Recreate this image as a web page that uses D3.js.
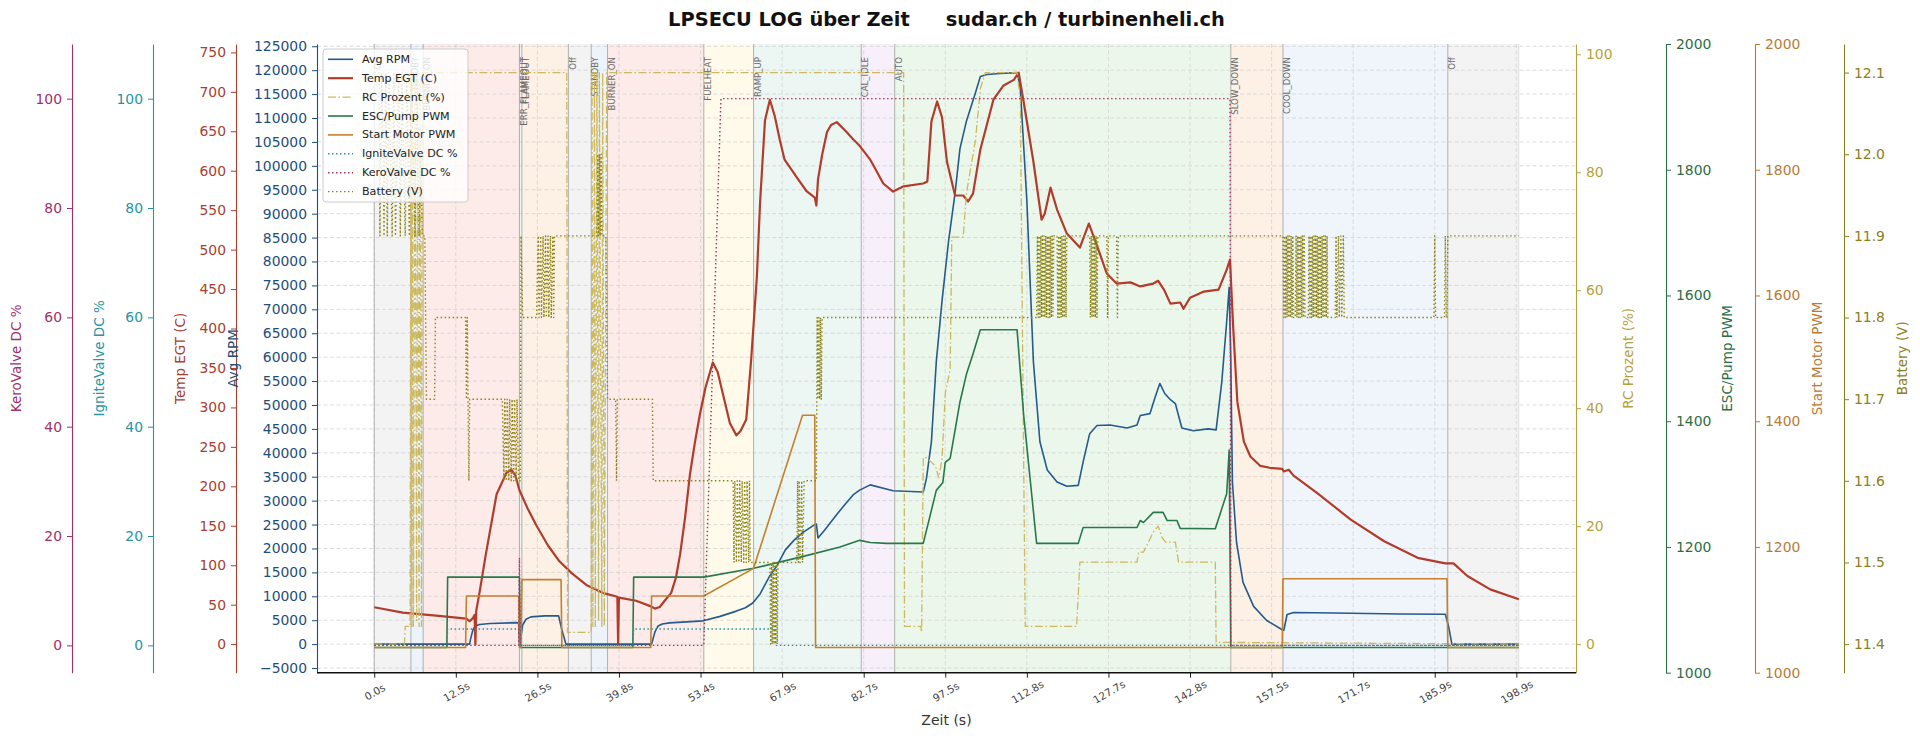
<!DOCTYPE html>
<html>
<head>
<meta charset="utf-8">
<script src="https://cdnjs.cloudflare.com/ajax/libs/d3/7.8.5/d3.min.js"></script>
<style>
body { margin: 0; background: #fff; }
svg { font-family: "DejaVu Sans", sans-serif; }
</style>
</head>
<body>
<svg id="chart" width="1920" height="739"></svg>
<script>
// x values are log sample numbers (100 samples between labelled ticks)
const tickIdx = [0, 100, 200, 300, 400, 500, 600, 700, 800, 900, 1000, 1100, 1200, 1300, 1400];
const tickLabels = ['0.0s', '12.5s', '26.5s', '39.8s', '53.4s', '67.9s', '82.7s', '97.5s',
    '112.8s', '127.7s', '142.8s', '157.5s', '171.7s', '185.9s', '198.9s'];
const lastSample = 1403;

// [start sample, state]
const phases = [[0, 'Off'], [45, 'STANDBY'], [60, 'BURNER_ON'], [178, 'ERR_FLAMEOUT'], [181, 'FLAMEOUT'],
    [238, 'Off'], [266, 'STANDBY'], [286, 'BURNER_ON'], [404, 'FUELHEAT'], [465, 'RAMP_UP'],
    [597, 'CAL_IDLE'], [638, 'AUTO'], [1050, 'SLOW_DOWN'], [1114, 'COOL_DOWN'], [1316, 'Off']];

const rpm = [[0, 0], [117, 0], [118, 1000], [121, 3000], [124, 3800], [129, 4100], [142, 4300], [174, 4500],
    [177, 4400], [178, 0], [180, 1700], [182, 4000], [186, 5200], [192, 5700], [209, 5900], [226, 5900],
    [230, 3000], [235, 0], [340, 0], [344, 2500], [348, 3800], [353, 4200], [362, 4450], [403, 4870],
    [424, 5800], [444, 6900], [455, 7600], [464, 8600], [473, 10500], [485, 14300], [494, 16500],
    [504, 19700], [515, 21800], [526, 23400], [540, 25000], [542, 25100], [544, 22200], [552, 23800],
    [567, 27100], [577, 29200], [587, 31200], [595, 32200], [608, 33300], [636, 32070], [673, 31800],
    [677, 34700], [683, 42300], [689, 59100], [696, 71700], [704, 84200], [712, 94300], [718, 103600],
    [726, 109400], [737, 115300], [743, 118700], [751, 119100], [767, 119300], [788, 119500],
    [792, 116200], [800, 92700], [808, 59100], [816, 42300], [825, 36400], [837, 33900], [849, 33000],
    [863, 33200], [869, 38100], [877, 44000], [886, 45700], [902, 45800], [923, 45200], [935, 45800],
    [939, 47800], [951, 48200], [957, 51500], [963, 54500], [969, 52400], [976, 51100], [982, 50300],
    [990, 45200], [1004, 44600], [1022, 45000], [1032, 44800], [1039, 54900], [1045, 67500],
    [1048, 74600], [1050, 59100], [1052, 33900], [1057, 21300], [1065, 12900], [1078, 7900],
    [1094, 4950], [1113, 3000], [1115, 2900], [1119, 6200], [1127, 6600], [1176, 6500], [1258, 6300],
    [1313, 6250], [1317, 3700], [1321, 0], [1403, 0]];

const egt = [[0, 46.7], [35, 40], [76, 36], [113, 32.4], [117, 29], [121, 33], [123, 37], [124, 0], [125, 42],
    [129, 65], [137, 115], [150, 190], [162, 217], [168, 221], [173, 214], [178, 195], [188, 172], [199, 150],
    [213, 125], [227, 105], [242, 90], [260, 75], [280, 65], [298, 60], [299, 0], [300, 59], [321, 55],
    [340, 47.5], [344, 45], [350, 47], [356, 55], [364, 65], [370, 85], [375, 114], [381, 160], [387, 215],
    [393, 255], [399, 290], [406, 325], [415, 357], [421, 345], [428, 314.5], [436, 280], [444, 264.6],
    [449, 270], [456, 284.6], [462, 360], [469, 464.6], [473, 560], [479, 664], [485, 690], [491, 669],
    [497, 640], [503, 614], [518, 591.6], [530, 574], [540, 566], [542, 556], [544, 589], [549, 620],
    [555, 649], [560, 658], [567, 661.6], [579, 649], [587, 640], [595, 631.6], [608, 614], [612, 606.6],
    [624, 583.8], [636, 573.6], [649, 580.2], [673, 583.8], [678, 586.4], [683, 662.4], [690, 687.8],
    [696, 667.6], [702, 611.7], [712, 568.6], [722, 568.6], [728, 561], [734, 571], [743, 627], [759, 690],
    [771, 707.6], [784, 715.2], [790, 724.4], [796, 687.8], [808, 611.7], [818, 538], [822, 545.7],
    [829, 578.6], [837, 550.8], [849, 520.3], [865, 502.6], [876, 533], [886, 505], [898, 469.7], [910, 457],
    [927, 458.5], [939, 453.4], [955, 457], [961, 460.5], [968, 449.4], [976, 431.6], [988, 433], [992, 425],
    [1000, 439], [1017, 446.8], [1035, 449.4], [1045, 474.7], [1049, 487.4], [1053, 400], [1058, 307.3],
    [1066, 256.6], [1074, 237.8], [1086, 226], [1098, 223.5], [1113, 222], [1115, 218.8], [1121, 221],
    [1127, 213.6], [1156, 191.5], [1197, 157.8], [1238, 130.4], [1279, 109.4], [1313, 102.3], [1323, 102.3],
    [1340, 86.3], [1368, 69.4], [1403, 56.8]];

const rcPercent = [[0, 0], [37, 0], [38, 3], [44, 3], [45, 96.9], [46, 3], [47, 96.9], [48, 3], [50, 96.9],
    [52, 4], [53, 96.9], [55, 3], [56, 96.9], [58, 3], [59, 96.9], [236, 96.9], [237, 2], [266, 2],
    [267, 96.9], [268, 3], [270, 96.9], [271, 3], [273, 96.9], [275, 4], [276, 96.9], [279, 3], [280, 96.9],
    [282, 3], [285, 96.9], [649, 96.9], [650, 3], [670, 3], [671, 2], [673, 31.6], [677, 31.6], [688, 30.2],
    [692, 28.2], [696, 31.3], [700, 42.5], [706, 46.6], [708, 69], [722, 69], [726, 76.5], [737, 85.4],
    [743, 94.2], [749, 96.9], [788, 96.9], [792, 92.2], [798, 3], [861, 3], [865, 13.9], [935, 13.9],
    [937, 15.6], [943, 15.6], [955, 19], [961, 20], [966, 18], [970, 17.3], [982, 17.3], [986, 13.9],
    [1031, 13.9], [1032, 0.3], [1403, 0]];

const escPwm = [[0, 1040], [89, 1040], [90, 1152], [178, 1152], [179, 1040], [317, 1040], [318, 1152],
    [404, 1152], [465, 1166], [526, 1185], [571, 1200], [595, 1210.5], [608, 1207], [628, 1205.7],
    [673, 1205.7], [689, 1290], [697, 1302.7], [700, 1334.7], [706, 1341], [718, 1430.6], [726, 1475],
    [734, 1507], [743, 1545.6], [788, 1545.6], [796, 1411], [812, 1205.7], [863, 1205.7], [869, 1231],
    [935, 1231], [939, 1242], [943, 1239], [955, 1255], [967, 1255], [972, 1242], [984, 1242],
    [988, 1229.6], [1031, 1229], [1045, 1285], [1048, 1354], [1050, 1040], [1403, 1040]];

const startPwm = [[0, 1040], [112, 1040], [113, 1122], [177, 1122], [178, 1040], [180, 1040], [181, 1148],
    [229, 1148], [230, 1040], [339, 1040], [340, 1122], [404, 1122], [465, 1166], [525, 1409.6],
    [540, 1409.6], [541, 1040], [1113, 1040], [1114, 1149.5], [1315, 1149.5], [1316, 1040], [1403, 1040]];

const igniteDc = [[0, 0], [89, 0], [90, 3], [178, 3], [179, 0], [317, 0], [318, 3], [491, 3], [492, 0], [1403, 0]];

const keroDc = [[0, 0], [177, 0], [178, 16], [179, 0], [404, 0], [425, 100], [1049, 100], [1050, 0], [1403, 0]];

const battery = [[0, 12.1], [6, 12.1], [7, 11.9], [9, 12.1], [11, 12.0], [12, 11.9], [14, 12.1], [16, 11.9],
    [18, 12.1], [20, 12.0], [22, 11.9], [24, 12.1], [26, 11.9], [28, 12.0], [30, 12.1], [32, 11.9], [34, 12.1],
    [36, 12.0], [38, 11.9], [40, 12.1], [43, 11.9], [45, 12.1], [48, 12.0], [50, 11.9], [52, 12.1], [55, 11.9],
    [57, 12.0], [59, 11.9], [62, 11.9], [64, 11.7], [74, 11.7], [75, 11.8], [112, 11.8], [113, 11.7],
    [114, 11.8], [115, 11.7], [116, 11.6], [117, 11.7], [157, 11.7], [159, 11.6], [160, 11.7], [162, 11.6],
    [163, 11.7], [165, 11.6], [166, 11.7], [168, 11.6], [169, 11.7], [171, 11.6], [172, 11.7], [174, 11.6],
    [175, 11.7], [177, 11.6], [179, 11.6], [180, 11.9], [182, 11.8], [199, 11.8], [201, 11.9], [202, 11.8],
    [204, 11.9], [205, 11.8], [207, 11.9], [208, 11.8], [210, 11.9], [211, 11.8], [213, 11.9], [214, 11.8],
    [216, 11.9], [217, 11.8], [219, 11.9], [220, 11.8], [221, 11.9], [273, 11.9], [274, 12.0], [275, 11.9],
    [276, 12.0], [277, 11.9], [278, 12.0], [279, 11.9], [284, 11.9], [286, 11.7], [296, 11.7], [297, 11.6],
    [298, 11.7], [341, 11.7], [342, 11.6], [440, 11.6], [441, 11.5], [442, 11.6], [444, 11.5], [445, 11.6],
    [447, 11.5], [448, 11.6], [450, 11.5], [451, 11.6], [453, 11.5], [454, 11.6], [456, 11.5], [457, 11.6],
    [459, 11.5], [460, 11.6], [461, 11.5], [485, 11.5], [486, 11.4], [487, 11.5], [488, 11.4], [489, 11.5],
    [490, 11.4], [491, 11.5], [492, 11.4], [493, 11.5], [494, 11.4], [495, 11.5], [518, 11.5], [519, 11.6],
    [520, 11.5], [521, 11.6], [522, 11.5], [524, 11.6], [525, 11.5], [527, 11.6], [542, 11.6], [543, 11.8],
    [544, 11.7], [545, 11.8], [546, 11.7], [547, 11.8], [548, 11.7], [549, 11.8], [812, 11.8], [813, 11.9],
    [814, 11.8], [815, 11.9], [816, 11.8], [817, 11.9], [818, 11.8], [819, 11.9], [820, 11.8], [821, 11.9],
    [822, 11.8], [823, 11.9], [824, 11.8], [825, 11.9], [826, 11.8], [827, 11.9], [828, 11.8], [829, 11.9],
    [830, 11.8], [831, 11.9], [832, 11.8], [833, 11.9], [837, 11.9], [838, 11.8], [839, 11.9], [840, 11.8],
    [841, 11.9], [842, 11.8], [843, 11.9], [844, 11.8], [845, 11.9], [846, 11.8], [847, 11.9], [848, 11.8],
    [849, 11.9], [877, 11.9], [878, 11.8], [879, 11.9], [880, 11.8], [881, 11.9], [882, 11.8], [883, 11.9],
    [884, 11.8], [885, 11.9], [886, 11.8], [887, 11.9], [898, 11.9], [899, 11.8], [900, 11.9], [910, 11.9],
    [911, 11.8], [912, 11.9], [1114, 11.9], [1115, 11.8], [1116, 11.9], [1117, 11.8], [1118, 11.9],
    [1119, 11.8], [1120, 11.9], [1121, 11.8], [1122, 11.9], [1123, 11.8], [1124, 11.9], [1125, 11.8],
    [1126, 11.9], [1127, 11.8], [1129, 11.8], [1130, 11.9], [1131, 11.8], [1132, 11.9], [1133, 11.8],
    [1134, 11.9], [1135, 11.8], [1136, 11.9], [1137, 11.8], [1138, 11.9], [1139, 11.8], [1140, 11.9],
    [1141, 11.8], [1145, 11.8], [1146, 11.9], [1147, 11.8], [1148, 11.9], [1149, 11.8], [1150, 11.9],
    [1151, 11.8], [1152, 11.9], [1153, 11.8], [1154, 11.9], [1155, 11.8], [1156, 11.9], [1157, 11.8],
    [1158, 11.9], [1159, 11.8], [1160, 11.9], [1161, 11.8], [1162, 11.9], [1163, 11.8], [1164, 11.9],
    [1165, 11.8], [1166, 11.9], [1167, 11.8], [1168, 11.9], [1169, 11.8], [1178, 11.8], [1179, 11.9],
    [1180, 11.8], [1182, 11.9], [1183, 11.8], [1185, 11.9], [1186, 11.8], [1188, 11.9], [1189, 11.8],
    [1299, 11.8], [1300, 11.9], [1301, 11.8], [1312, 11.8], [1313, 11.9], [1314, 11.8], [1315, 11.8],
    [1316, 11.9], [1403, 11.9]];

const phaseColor = {
    'Off': '#f3f3f3', 'STANDBY': '#edf3fb', 'BURNER_ON': '#fcebe9', 'ERR_FLAMEOUT': '#f3f3f3',
    'FLAMEOUT': '#fdf0e4', 'FUELHEAT': '#fffaea', 'RAMP_UP': '#ecf6f2', 'CAL_IDLE': '#f7f0fa',
    'AUTO': '#ecf7ec', 'SLOW_DOWN': '#fdf1e6', 'COOL_DOWN': '#eff5fb'
};

const plot = { left: 317, right: 1576, top: 44, bottom: 672.7 };
const svg = d3.select('#chart');

// matplotlib style 5% margins
function padded(lo, hi) {
    const m = (hi - lo) * 0.05;
    return [lo - m, hi + m];
}
function extentOf(series) {
    return d3.extent(series, d => d[1]);
}

const x = d3.scaleLinear().domain(padded(0, lastSample)).range([plot.left, plot.right]);
const yRange = [plot.bottom, plot.top];
const yRpm = d3.scaleLinear().domain(padded(...extentOf(rpm))).range(yRange);
const yEgt = d3.scaleLinear().domain(padded(...extentOf(egt))).range(yRange);
const yRc = d3.scaleLinear().domain(padded(...extentOf(rcPercent))).range(yRange);
const yPwm = d3.scaleLinear().domain([1000, 2000]).range(yRange);
const yValve = d3.scaleLinear().domain([-5, 110]).range(yRange);
const yBat = d3.scaleLinear().domain(padded(...extentOf(battery))).range(yRange);

// state bands
const bands = phases.map((p, i) => ({
    start: p[0], end: i < phases.length - 1 ? phases[i + 1][0] : lastSample, name: p[1]
}));
svg.append('g').selectAll('rect').data(bands).enter().append('rect')
    .attr('x', d => x(d.start)).attr('width', d => x(d.end) - x(d.start))
    .attr('y', plot.top).attr('height', plot.bottom - plot.top)
    .attr('fill', d => phaseColor[d.name]);

// grid
const grid = svg.append('g').attr('stroke', '#cfcfcf').attr('stroke-width', 0.7)
    .attr('stroke-dasharray', '4,2.5');
grid.selectAll('.hg').data(d3.range(-5000, 125001, 5000)).enter().append('line')
    .attr('x1', plot.left).attr('x2', plot.right)
    .attr('y1', d => yRpm(d)).attr('y2', d => yRpm(d));
grid.selectAll('.vg').data(tickIdx).enter().append('line')
    .attr('y1', plot.top).attr('y2', plot.bottom)
    .attr('x1', d => x(d)).attr('x2', d => x(d));

// state change lines
svg.append('g').selectAll('line').data(bands).enter().append('line')
    .attr('x1', d => x(d.start)).attr('x2', d => x(d.start))
    .attr('y1', plot.top).attr('y2', plot.bottom)
    .attr('stroke', '#a8a8a8').attr('stroke-width', 0.9);
svg.append('line').attr('x1', x(lastSample)).attr('x2', x(lastSample))
    .attr('y1', plot.top).attr('y2', plot.bottom)
    .attr('stroke', '#d8d8d8').attr('stroke-width', 0.8);

svg.append('g').selectAll('text').data(bands).enter().append('text')
    .attr('transform', d => `translate(${x(d.start) + 7.2},57) rotate(-90)`)
    .attr('text-anchor', 'end')
    .attr('font-size', 8.6).attr('fill', '#6a6a6a')
    .text(d => d.name);

// series
const series = [
    { name: 'Avg RPM', data: rpm, y: yRpm, color: '#245a8c', width: 1.6 },
    { name: 'Temp EGT (C)', data: egt, y: yEgt, color: '#b23c2c', width: 2.2 },
    { name: 'RC Prozent (%)', data: rcPercent, y: yRc, color: '#cdb85e', width: 1.3, dash: '8,2.5,1.6,2.5' },
    { name: 'ESC/Pump PWM', data: escPwm, y: yPwm, color: '#27784a', width: 1.6 },
    { name: 'Start Motor PWM', data: startPwm, y: yPwm, color: '#c4802e', width: 1.6 },
    { name: 'IgniteValve DC %', data: igniteDc, y: yValve, color: '#2593a3', width: 1.4, dash: '1.5,2.5' },
    { name: 'KeroValve DC %', data: keroDc, y: yValve, color: '#a83362', width: 1.4, dash: '1.5,2.5' },
    { name: 'Battery (V)', data: battery, y: yBat, color: '#8c8419', width: 1.4, dash: '1.5,2.5' }
];

svg.append('defs').append('clipPath').attr('id', 'plotclip').append('rect')
    .attr('x', plot.left).attr('y', plot.top)
    .attr('width', plot.right - plot.left).attr('height', plot.bottom - plot.top);

const lines = svg.append('g').attr('clip-path', 'url(#plotclip)');
series.forEach(s => {
    const line = d3.line().x(d => x(d[0])).y(d => s.y(d[1]));
    lines.append('path')
        .attr('d', line(s.data))
        .attr('fill', 'none')
        .attr('stroke', s.color)
        .attr('stroke-width', s.width)
        .attr('stroke-linejoin', 'round')
        .attr('stroke-dasharray', s.dash || null);
});

// axes
function styleAxis(g, color, fontSize) {
    g.select('.domain').attr('stroke', color).attr('stroke-width', 1.1);
    g.selectAll('.tick line').attr('stroke', color);
    g.selectAll('.tick text').attr('fill', color).attr('font-size', fontSize)
        .attr('font-family', '"DejaVu Sans", sans-serif');
}

const yAxes = [
    { scale: yValve, pos: 72, side: 'left', ticks: d3.range(0, 101, 20), fmt: d3.format('d'),
      color: '#a0306a', label: 'KeroValve DC %', labelX: 16 },
    { scale: yValve, pos: 153, side: 'left', ticks: d3.range(0, 101, 20), fmt: d3.format('d'),
      color: '#2894a4', label: 'IgniteValve DC %', labelX: 99 },
    { scale: yEgt, pos: 236, side: 'left', ticks: d3.range(0, 751, 50), fmt: d3.format('d'),
      color: '#a8402f', label: 'Temp EGT (C)', labelX: 180 },
    { scale: yRpm, pos: 317, side: 'left', ticks: d3.range(-5000, 125001, 5000), fmt: d3.format('d'),
      color: '#1f4e79', label: 'Avg RPM', labelX: 233 },
    { scale: yRc, pos: 1576, side: 'right', ticks: d3.range(0, 101, 20), fmt: d3.format('d'),
      color: '#b5a23a', label: 'RC Prozent (%)', labelX: 1628 },
    { scale: yPwm, pos: 1666, side: 'right', ticks: d3.range(1000, 2001, 200), fmt: d3.format('d'),
      color: '#2b6e47', label: 'ESC/Pump PWM', labelX: 1727 },
    { scale: yPwm, pos: 1755, side: 'right', ticks: d3.range(1000, 2001, 200), fmt: d3.format('d'),
      color: '#b97a33', label: 'Start Motor PWM', labelX: 1817 },
    { scale: yBat, pos: 1844, side: 'right', ticks: [11.4, 11.5, 11.6, 11.7, 11.8, 11.9, 12.0, 12.1],
      fmt: d3.format('.1f'), color: '#8a8020', label: 'Battery (V)', labelX: 1902 }
];

yAxes.forEach(a => {
    const axis = (a.side === 'left' ? d3.axisLeft(a.scale) : d3.axisRight(a.scale))
        .tickValues(a.ticks).tickFormat(a.fmt).tickSize(5).tickSizeOuter(0).tickPadding(5);
    const g = svg.append('g').attr('transform', `translate(${a.pos},0)`).call(axis);
    styleAxis(g, a.color, 13.9);
    svg.append('text')
        .attr('transform', `translate(${a.labelX},${(plot.top + plot.bottom) / 2}) rotate(-90)`)
        .attr('text-anchor', 'middle').attr('dominant-baseline', 'central')
        .attr('font-size', 13.5).attr('fill', a.color)
        .text(a.label);
});

const xAxis = d3.axisBottom(x).tickValues(tickIdx).tickFormat((d, i) => tickLabels[i])
    .tickSize(5).tickSizeOuter(0);
const gx = svg.append('g').attr('transform', `translate(0,${plot.bottom})`).call(xAxis);
gx.select('.domain').remove();
gx.selectAll('.tick line').attr('stroke', '#222');
gx.selectAll('.tick text')
    .attr('y', 0).attr('dy', 0)
    .attr('transform', 'translate(0,19) rotate(-30)')
    .attr('text-anchor', 'middle').attr('dominant-baseline', 'central')
    .attr('font-size', 10.4).attr('fill', '#444')
    .attr('font-family', '"DejaVu Sans", sans-serif');
svg.append('line').attr('x1', plot.left).attr('x2', plot.right)
    .attr('y1', plot.bottom).attr('y2', plot.bottom)
    .attr('stroke', '#111').attr('stroke-width', 1.6);

svg.append('text').attr('x', (plot.left + plot.right) / 2).attr('y', 725)
    .attr('text-anchor', 'middle').attr('font-size', 14).attr('fill', '#333')
    .text('Zeit (s)');

// legend
const legend = svg.append('g');
legend.append('rect').attr('x', 323).attr('y', 49).attr('width', 145).attr('height', 153)
    .attr('rx', 3).attr('fill', '#fff').attr('fill-opacity', 0.8)
    .attr('stroke', '#cccccc').attr('stroke-width', 1);
series.forEach((s, i) => {
    const ly = 59.3 + i * 18.9;
    legend.append('line').attr('x1', 328).attr('x2', 353).attr('y1', ly).attr('y2', ly)
        .attr('stroke', s.color).attr('stroke-width', s.width)
        .attr('stroke-dasharray', s.dash || null);
    legend.append('text').attr('x', 362).attr('y', ly).attr('dominant-baseline', 'central')
        .attr('font-size', 11.1).attr('fill', '#222').text(s.name);
});

// title
const title = svg.append('text').attr('x', (plot.left + plot.right) / 2).attr('y', 26)
    .attr('text-anchor', 'middle').attr('font-size', 19.4).attr('font-weight', 'bold').attr('fill', '#111');
title.append('tspan').text('LPSECU LOG über Zeit');
title.append('tspan').attr('dx', 36).text('sudar.ch / turbinenheli.ch');
</script>
</body>
</html>
